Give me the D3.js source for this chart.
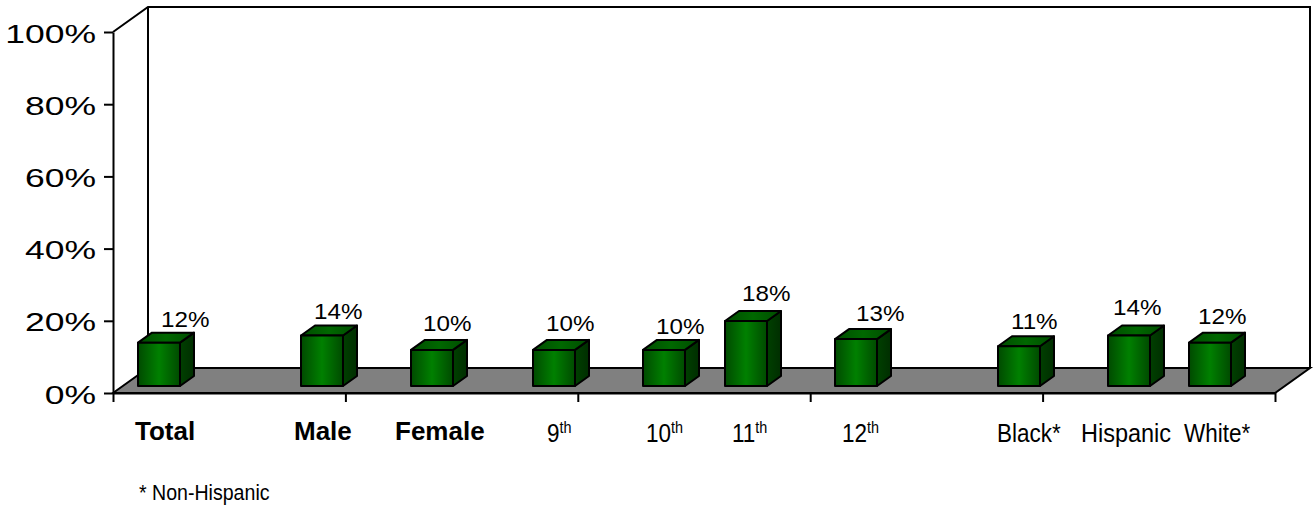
<!DOCTYPE html>
<style>
body { margin: 0; background: #fff; }
svg { display: block; }
text { font-family: "Liberation Sans", Arial, sans-serif; fill: #000; }
</style>
<svg width="1315" height="506"></svg>
<script src="https://d3js.org/d3.v7.min.js"></script>
<script>
// values
var categories = ["Total", "Male", "Female", "9", "10", "11", "12", "Black*", "Hispanic", "White*"];
var values = [12, 14, 10, 10, 10, 18, 13, 11, 14, 12];
var valueTicks = [0, 20, 40, 60, 80, 100];
var note = "* Non-Hispanic";

// the source slide spaces its groups by hand, so the layout is set by hand too
var barLefts = [138, 301, 411, 533, 643, 725, 835, 998, 1108, 1189];
var labelLefts = [135, 294, 395, 547, 646, 732, 842, 997, 1081, 1184];
var labelBase = [440, 440, 440, 442, 442, 442, 442, 442, 442, 442];
var valueLefts = [161, 314, 423, 546, 656, 742, 856, 1011, 1113, 1198];
var valueLift = [16, 16, 19, 19, 16, 20, 18, 17, 20, 19];

var svg = d3.select("svg");
var left = 113, right = 1275, floorY = 393, topY = 32;
var depthX = 35, depthY = 25;
var barW = 42, barDx = 14, barDy = 10, barRaise = 7;

var y = d3.scaleLinear().domain([0, 100]).range([floorY, topY]);
var x = d3.scaleOrdinal().domain(categories).range(barLefts);
var xMajor = d3.scaleLinear().domain([0, 5]).range([left, right]);

var defs = svg.append("defs");
function shade(id, stops) {
  var g = defs.append("linearGradient").attr("id", id);
  stops.forEach(function(s) {
    g.append("stop").attr("offset", s[0]).attr("stop-color", s[1]);
  });
}
shade("front", [[0, "#004a00"], [0.5, "#008000"], [1, "#004a00"]]);
shade("side", [[0, "#004000"], [1, "#002e00"]]);
shade("lid", [[0, "#004c00"], [0.5, "#006800"], [1, "#004c00"]]);

// back wall and floor
svg.append("path")
    .attr("d", "M" + left + "," + topY + "L" + (left + depthX) + "," + (topY - depthY)
      + "H" + (right + depthX) + "V" + (floorY - depthY))
    .attr("fill", "none").attr("stroke", "#000").attr("stroke-width", 2);
svg.append("path")
    .attr("d", "M" + (left + depthX) + "," + (topY - depthY) + "V" + (floorY - depthY))
    .attr("fill", "none").attr("stroke", "#000").attr("stroke-width", 2);
svg.append("path")
    .attr("d", "M" + left + "," + floorY + "L" + (left + depthX) + "," + (floorY - depthY)
      + "H" + (right + depthX) + "L" + right + "," + floorY + "Z")
    .attr("fill", "#808080").attr("stroke", "#000").attr("stroke-width", 2);

// axes
var yAxis = svg.append("g")
    .attr("transform", "translate(" + left + ",0)")
    .call(d3.axisLeft(y).tickValues(valueTicks).tickSize(9).tickSizeOuter(0).tickFormat(function(d) { return d + "%"; }));
yAxis.select(".domain").attr("stroke-width", 2);
yAxis.selectAll("line").attr("stroke-width", 2);
yAxis.selectAll("text")
    .attr("x", null).attr("dy", null)
    .attr("text-anchor", "end")
    .style("font-size", "25px")
    .attr("transform", "translate(-17,10) scale(1.42,1)");

var xAxis = svg.append("g")
    .attr("transform", "translate(0," + floorY + ")")
    .call(d3.axisBottom(xMajor).ticks(5).tickSize(9).tickSizeOuter(0).tickFormat(""));
xAxis.select(".domain").attr("stroke-width", 2);
xAxis.selectAll("line").attr("stroke-width", 2);

// 3d bars
var bars = svg.append("g").selectAll("g")
    .data(categories)
    .enter().append("g")
      .attr("stroke", "#000").attr("stroke-width", 2).attr("stroke-linejoin", "round");

function barTop(i) { return y(values[i]) - barRaise; }
var barBottom = floorY - barRaise;

bars.append("path")
    .attr("fill", "url(#side)")
    .attr("d", function(d, i) {
      var r = x(d) + barW, t = barTop(i);
      return "M" + r + "," + t + "l" + barDx + "," + (-barDy) + "V" + (barBottom - barDy)
        + "l" + (-barDx) + "," + barDy + "Z";
    });
bars.append("path")
    .attr("fill", "url(#lid)")
    .attr("d", function(d, i) {
      var l = x(d), t = barTop(i);
      return "M" + l + "," + t + "l" + barDx + "," + (-barDy) + "h" + barW
        + "l" + (-barDx) + "," + barDy + "Z";
    });
bars.append("rect")
    .attr("fill", "url(#front)")
    .attr("x", function(d) { return x(d); })
    .attr("y", function(d, i) { return barTop(i); })
    .attr("width", barW)
    .attr("height", function(d, i) { return barBottom - barTop(i); });

// value labels
svg.append("g").selectAll("text")
    .data(values)
    .enter().append("text")
      .style("font-size", "22px")
      .attr("fill", "#111")
      .attr("transform", function(d, i) {
        return "translate(" + valueLefts[i] + "," + (barTop(i) - valueLift[i]) + ") scale(1.1,1)";
      })
      .text(function(d) { return d + "%"; });

// category labels
var labels = svg.append("g").selectAll("text")
    .data(categories)
    .enter().append("text")
      .style("font-size", function(d, i) { return i < 3 ? "26px" : "25px"; })
      .style("font-weight", function(d, i) { return i < 3 ? "bold" : "normal"; })
      .attr("transform", function(d, i) {
        var sx = i < 3 ? 1 : (d === "Hispanic" ? 0.94 : 0.9);
        return "translate(" + labelLefts[i] + "," + labelBase[i] + ") scale(" + sx + ",1)";
      });
labels.append("tspan").text(function(d) { return d; });
labels.filter(function(d) { return /^\d+$/.test(d); })
    .append("tspan")
      .attr("dy", -9)
      .style("font-size", "16px")
      .text("th");

svg.append("text")
    .attr("transform", "translate(139,500) scale(0.89,1)")
    .style("font-size", "22px")
    .text(note);
</script>
